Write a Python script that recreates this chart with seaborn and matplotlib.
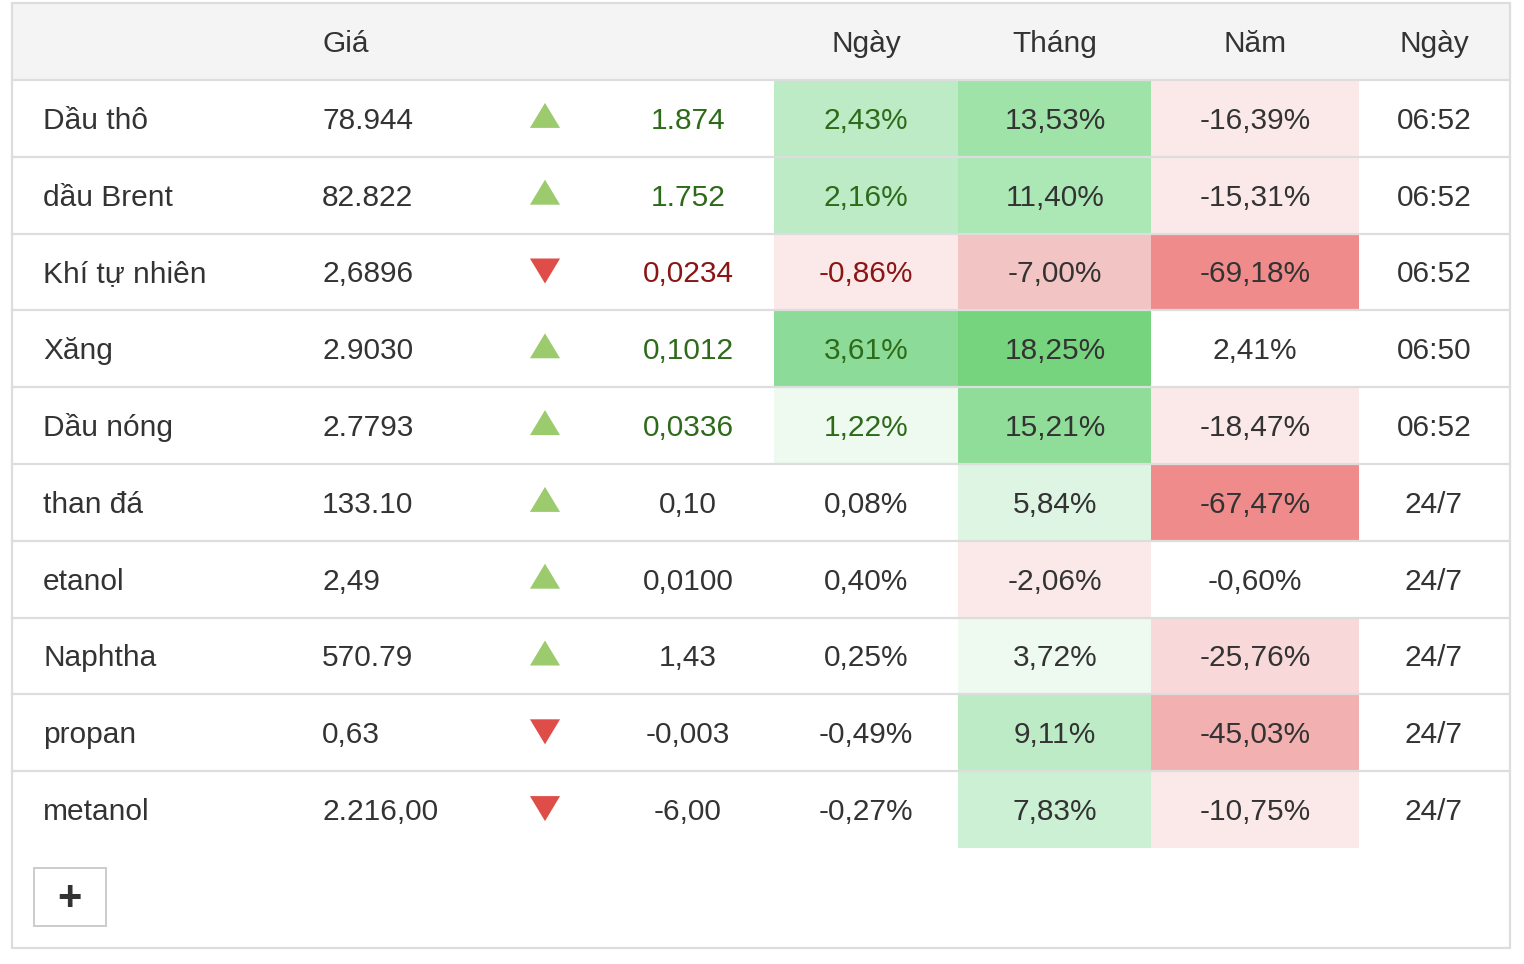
import pandas as pd
import seaborn as sns
import matplotlib.pyplot as plt
from matplotlib.patches import Rectangle

sns.set_theme(style='white')
plt.rcParams['font.family'] = ['Liberation Sans', 'DejaVu Sans']

# ---- data ----
headers = ['', 'Giá', '', '', 'Ngày', 'Tháng', 'Năm', 'Ngày']
names = ['Dầu thô', 'dầu Brent', 'Khí tự nhiên', 'Xăng', 'Dầu nóng',
         'than đá', 'etanol', 'Naphtha', 'propan', 'metanol']
prices = ['78.944', '82.822', '2,6896', '2.9030', '2.7793',
          '133.10', '2,49', '570.79', '0,63', '2.216,00']
direction = ['up', 'up', 'down', 'up', 'up', 'up', 'up', 'up', 'down', 'down']
changes = ['1.874', '1.752', '0,0234', '0,1012', '0,0336',
           '0,10', '0,0100', '1,43', '-0,003', '-6,00']
day_pct = [2.43, 2.16, -0.86, 3.61, 1.22, 0.08, 0.40, 0.25, -0.49, -0.27]
month_pct = [13.53, 11.40, -7.00, 18.25, 15.21, 5.84, -2.06, 3.72, 9.11, 7.83]
year_pct = [-16.39, -15.31, -69.18, 2.41, -18.47, -67.47, -0.60, -25.76, -45.03, -10.75]
times = ['06:52', '06:52', '06:52', '06:50', '06:52',
         '24/7', '24/7', '24/7', '24/7', '24/7']
live = [True, True, True, True, True, False, False, False, False, False]

# ---- styling ----
W = '#ffffff'
cell_bg = {
    'day': ['#bcebc6', '#bcebc6', '#fbe9e9', '#8cdb98', '#eef9f0',
            W, W, W, W, W],
    'month': ['#9fe3a8', '#ace8b6', '#f2c4c4', '#76d47f', '#8fdd99',
              '#dff5e3', '#fbe9e9', '#eef9f0', '#bcebc6', '#ccf0d3'],
    'year': ['#fbe9e9', '#fbe9e9', '#ef8b8b', W, '#fbe9e9',
             '#ef8b8b', W, '#f8d8d8', '#f2b0b0', '#fbe9e9'],
}
TXT = '#333333'
GREEN_TXT = '#2d6b1a'
RED_TXT = '#8b1414'
LINE = '#dddddd'
FS = 21.5

left, right, top = 12, 1510, 3
head_bot = 80
row_h = 76.8
col_edges = [774, 958, 1151, 1359]
x_name, x_price, x_arrow, x_chg = 43, 322, 545, 688
x_pct = [866, 1055, 1255]
x_time = 1434

fig = plt.figure(figsize=(15.24, 9.64), dpi=100)
ax = fig.add_axes([0, 0, 1, 1])

# header band
ax.add_patch(Rectangle((left, top), right - left, head_bot - top,
                       facecolor='#f4f4f4', edgecolor='none', zorder=0))
hy = (top + head_bot) / 2 + 10.5
ax.text(x_price, hy, 'Giá', ha='left', va='baseline', fontsize=FS, color=TXT)
for x, h in zip(x_pct + [x_time], headers[4:]):
    ax.text(x, hy, h, ha='center', va='baseline', fontsize=FS, color=TXT)

# coloured cells
pct_cols = [day_pct, month_pct, year_pct]
for j, key in enumerate(['day', 'month', 'year']):
    for i, c in enumerate(cell_bg[key]):
        y0 = head_bot + i * row_h
        ax.add_patch(Rectangle((col_edges[j], y0), col_edges[j + 1] - col_edges[j],
                               row_h, facecolor=c, edgecolor='none', zorder=1))

# row texts
for i in range(len(names)):
    yc = head_bot + (i + 0.5) * row_h
    yb = yc + 10.5
    hl = TXT
    if live[i]:
        hl = GREEN_TXT if direction[i] == 'up' else RED_TXT
    ax.text(x_name, yb, names[i], ha='left', va='baseline', fontsize=FS, color=TXT, zorder=3)
    ax.text(x_price, yb, prices[i], ha='left', va='baseline', fontsize=FS, color=TXT, zorder=3)
    ax.text(x_chg, yb, changes[i], ha='center', va='baseline', fontsize=FS, color=hl, zorder=3)
    for j, vals in enumerate(pct_cols):
        s = f'{vals[i]:.2f}%'.replace('.', ',')
        ax.text(x_pct[j], yb, s, ha='center', va='baseline', fontsize=FS,
                color=hl if j == 0 else TXT, zorder=3)
    ax.text(x_time, yb, times[i], ha='center', va='baseline', fontsize=FS, color=TXT, zorder=3)

# arrows via seaborn scatter (marker shapes are in screen space)
arrows = pd.DataFrame({
    'x': [x_arrow] * len(names),
    'y': [head_bot + (i + 0.5) * row_h - (3 if d == 'up' else 1)
          for i, d in enumerate(direction)],
    'dir': direction,
})
up_m = [(-1, -0.83), (1, -0.83), (0, 0.83)]
dn_m = [(-1, 0.83), (1, 0.83), (0, -0.83)]
sns.scatterplot(data=arrows, x='x', y='y', hue='dir', style='dir',
                palette={'up': '#9bcb6c', 'down': '#de4d47'},
                markers={'up': up_m, 'down': dn_m},
                s=470, linewidth=0, legend=False, ax=ax, zorder=3)
ax.set_xlim(0, 1524)
ax.set_ylim(964, 0)
ax.axis('off')

# grid lines
ax.plot([left, right], [head_bot, head_bot], color=LINE, lw=1.6, zorder=4)
for i in range(1, len(names)):
    y = head_bot + i * row_h
    ax.plot([left, right], [y, y], color=LINE, lw=1.6, zorder=4)

# outer border
ax.add_patch(Rectangle((left, top), right - left, 948 - top, facecolor='none',
                       edgecolor=LINE, lw=1.6, zorder=5))

# plus button
ax.add_patch(Rectangle((34, 868), 72, 58, facecolor='white', edgecolor='#cccccc',
                       lw=1.4, zorder=5))
ax.text(69, 899, '+', ha='center', va='center', fontsize=30, fontweight='bold',
        color=TXT, zorder=6)

fig.savefig('out.png', dpi=100, facecolor='white')
